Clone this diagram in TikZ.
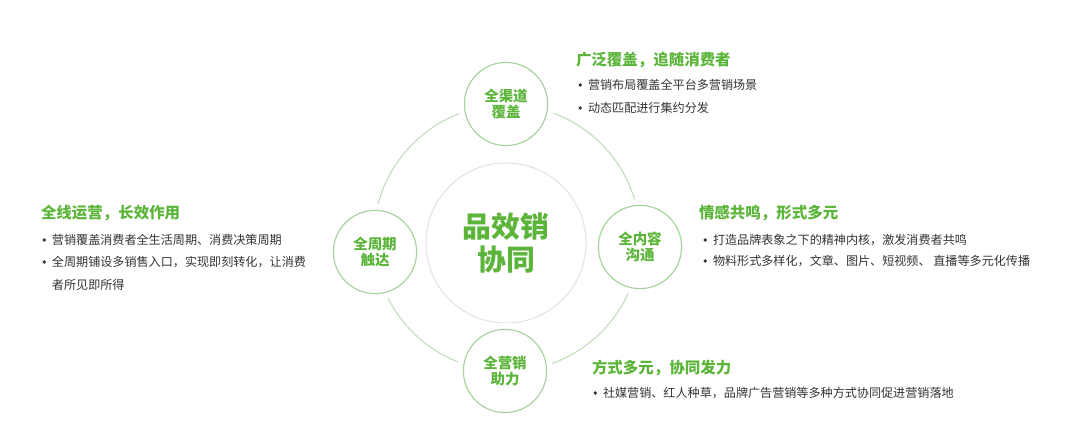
\documentclass[tikz,border=0pt]{standalone}
\usepackage{fontspec}
\setmainfont{Noto Sans CJK SC}
\usepackage{tikz}
\usetikzlibrary{positioning}

\definecolor{leaf}{HTML}{5CB53A}
\definecolor{ink}{HTML}{333333}
\definecolor{rim}{HTML}{A3D29A}
\definecolor{loopline}{HTML}{C3DDBE}
\definecolor{corerim}{HTML}{DDE8DA}

\begin{document}
\begin{tikzpicture}[
  x=0.025cm, y=-0.025cm,
  every node/.style={inner sep=0pt, outer sep=0pt, align=center},
  ringbox/.style={circle, draw=loopline, line width=0.8pt, minimum size=6.66cm},
  core/.style={circle, draw=corerim, line width=0.8pt, minimum size=4cm,
               text=leaf, font=\fontsize{20.5}{24}\selectfont\bfseries},
  spoke/.style={circle, draw=rim, line width=0.8pt, fill=white,
                preaction={draw=white, line width=9pt},
                minimum size=2.08cm, text=leaf,
                font=\fontsize{10.3}{11.2}\selectfont\bfseries},
  ttl/.style={anchor=west, text=leaf, font=\fontsize{11}{13}\selectfont\bfseries},
  txt/.style={anchor=west, text=ink, font=\fontsize{8.6}{10}\selectfont},
  blt/.style={circle, fill=ink, minimum size=2.6pt},
  bul/.style={txt, label={[blt, label distance=4.2pt]west:}},
]

\useasboundingbox (0,0) rectangle (1080,442);

% ---- wheel ----
\node[ringbox] (loop) at (507,238) {};
\node[core]  (hub)  at (506,243) {品效销\\协同};
\node[spoke] (chan) at (506,104) {全渠道\\覆盖};
\node[spoke] (cont) at (640,247) {全内容\\沟通};
\node[spoke] (mkt)  at (505,371) {全营销\\助力};
\node[spoke] (cyc)  at (375,252) {全周期\\触达};

% ---- top right: channels ----
\node[ttl] (chanT) at (576,60)  {广泛覆盖，追随消费者};
\node[bul] (chanA) at (588,85)  {营销布局覆盖全平台多营销场景};
\node[bul] (chanB) at (588,108) {动态匹配进行集约分发};

% ---- right: content ----
\node[ttl] (contT) at (699,213) {情感共鸣，形式多元};
\node[bul] (contA) at (713,240) {打造品牌表象之下的精神内核，激发消费者共鸣};
\node[bul] (contB) at (713,261) {物料形式多样化，文章、图片、短视频、 直播等多元化传播};

% ---- left: life cycle ----
\node[ttl] (cycT) at (41,213)  {全线运营，长效作用};
\node[bul] (cycA) at (52,240)  {营销覆盖消费者全生活周期、消费决策周期};
\node[bul] (cycB) at (52,262)  {全周期铺设多销售入口，实现即刻转化，让消费};
\node[txt] (cycC) at (52,285)  {者所见即所得};

% ---- bottom: marketing ----
\node[ttl] (mktT) at (592,368) {方式多元，协同发力};
\node[bul] (mktA) at (603,393) {社媒营销、红人种草，品牌广告营销等多种方式协同促进营销落地};

\end{tikzpicture}
\end{document}
